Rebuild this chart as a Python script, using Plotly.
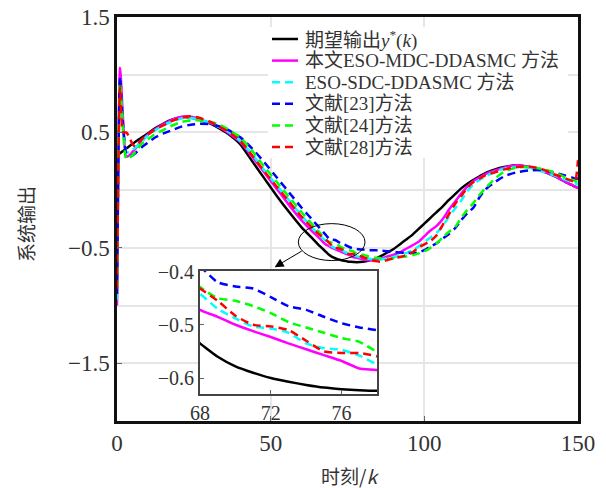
import plotly.graph_objects as go

# ---------------- data ----------------
k = [0, 1, 2, 3, 4, 5, 6, 8, 10, 12, 15, 18, 21, 24, 27, 30, 33, 36, 40, 44, 48, 52, 56, 60,
     64, 66, 68, 69, 70, 71, 72, 73, 74, 75, 76, 77, 78, 80, 82, 84, 86, 88, 90, 92, 94, 96,
     98, 100, 102, 104, 106, 108, 110, 112, 114, 116, 118, 120, 123, 126, 130, 134, 138, 142,
     146, 148, 149, 150]

y_ref = [0.30, 0.32, 0.34, 0.36, 0.38, 0.40, 0.42, 0.455, 0.49, 0.53, 0.575, 0.612, 0.632, 0.628,
         0.608, 0.58, 0.54, 0.49, 0.40, 0.25, 0.10, -0.05, -0.19, -0.32,
         -0.43, -0.485, -0.535, -0.56, -0.578, -0.59, -0.60, -0.607, -0.613, -0.618, -0.621, -0.623,
         -0.624, -0.62, -0.61, -0.595, -0.57, -0.54, -0.51, -0.47, -0.43, -0.39,
         -0.34, -0.29, -0.24, -0.19, -0.14, -0.085, -0.035, 0.015, 0.055, 0.09, 0.12, 0.15, 0.18,
         0.20, 0.215, 0.20, 0.17, 0.125, 0.07, 0.045, 0.03, 0.02]

y_mdc = [-1.00, 1.06, 0.60, 0.29, 0.30, 0.33, 0.36, 0.43, 0.48, 0.52, 0.57, 0.61, 0.635, 0.635,
         0.615, 0.585, 0.55, 0.50, 0.42, 0.29, 0.15, 0.01, -0.13, -0.26,
         -0.37, -0.42, -0.472, -0.485, -0.50, -0.512, -0.523, -0.535, -0.546, -0.557, -0.568, -0.582,
         -0.585, -0.598, -0.608, -0.605, -0.59, -0.575, -0.56, -0.54, -0.51, -0.48,
         -0.45, -0.40, -0.35, -0.31, -0.25, -0.17, -0.10, -0.03, 0.03, 0.08, 0.11, 0.14, 0.17,
         0.195, 0.215, 0.20, 0.17, 0.125, 0.07, 0.045, 0.03, 0.02]

y_sdc = [-0.95, 0.95, 0.55, 0.33, 0.33, 0.35, 0.37, 0.42, 0.47, 0.51, 0.56, 0.595, 0.62, 0.625,
         0.61, 0.585, 0.55, 0.51, 0.43, 0.31, 0.17, 0.04, -0.09, -0.22,
         -0.34, -0.395, -0.442, -0.47, -0.488, -0.503, -0.507, -0.515, -0.535, -0.544, -0.547, -0.558,
         -0.574, -0.585, -0.595, -0.60, -0.60, -0.59, -0.58, -0.565, -0.545, -0.52,
         -0.49, -0.45, -0.41, -0.37, -0.31, -0.23, -0.16, -0.09, -0.01, 0.05, 0.09, 0.12, 0.16,
         0.185, 0.20, 0.195, 0.165, 0.13, 0.09, 0.07, 0.06, 0.05]

y_23 = [-0.90, 0.98, 0.55, 0.32, 0.30, 0.30, 0.32, 0.37, 0.41, 0.45, 0.49, 0.52, 0.55, 0.567,
        0.575, 0.572, 0.555, 0.525, 0.46, 0.36, 0.24, 0.11, -0.02, -0.15,
        -0.27, -0.33, -0.39, -0.42, -0.428, -0.432, -0.448, -0.465, -0.472, -0.485, -0.497, -0.505,
        -0.51, -0.515, -0.52, -0.52, -0.525, -0.53, -0.535, -0.54, -0.545, -0.545,
        -0.54, -0.52, -0.49, -0.46, -0.42, -0.38, -0.33, -0.26, -0.20, -0.15, -0.06, 0.01, 0.07,
        0.12, 0.155, 0.17, 0.175, 0.155, 0.125, 0.11, 0.10, 0.10]

y_24 = [-0.85, 0.93, 0.50, 0.27, 0.28, 0.30, 0.33, 0.40, 0.44, 0.48, 0.52, 0.56, 0.59, 0.603,
        0.605, 0.595, 0.57, 0.53, 0.46, 0.34, 0.20, 0.07, -0.06, -0.19,
        -0.31, -0.37, -0.429, -0.45, -0.455, -0.465, -0.478, -0.495, -0.505, -0.515, -0.525, -0.532,
        -0.55, -0.56, -0.575, -0.585, -0.59, -0.595, -0.59, -0.58, -0.575, -0.565,
        -0.55, -0.53, -0.50, -0.46, -0.41, -0.36, -0.32, -0.24, -0.17, -0.11, -0.04, 0.02, 0.10,
        0.16, 0.195, 0.20, 0.185, 0.155, 0.11, 0.09, 0.08, 0.07]

y_28 = [-0.85, 0.90, 0.50, 0.50, 0.46, 0.40, 0.38, 0.44, 0.48, 0.52, 0.56, 0.60, 0.63, 0.64,
        0.625, 0.595, 0.555, 0.51, 0.43, 0.30, 0.16, 0.03, -0.10, -0.23,
        -0.34, -0.39, -0.432, -0.455, -0.483, -0.50, -0.503, -0.51, -0.53, -0.55, -0.553, -0.553,
        -0.559, -0.58, -0.60, -0.615, -0.62, -0.605, -0.59, -0.58, -0.565, -0.54,
        -0.50, -0.47, -0.44, -0.39, -0.30, -0.21, -0.12, -0.05, 0.02, 0.07, 0.10, 0.13, 0.155,
        0.18, 0.20, 0.205, 0.185, 0.14, 0.10, 0.08, 0.07, 0.26]

names = ['期望输出<i>y</i><sup>*</sup>(<i>k</i>)', '本文ESO-MDC-DDASMC 方法', 'ESO-SDC-DDASMC 方法',
         '文献[23]方法', '文献[24]方法', '文献[28]方法']
series = [y_ref, y_mdc, y_sdc, y_23, y_24, y_28]
colors = ['#000000', '#ff00ff', '#00ffff', '#0000ff', '#00ff00', '#ff0000']
dashes = ['solid', 'solid', '8px,5px', '8px,5px', '8px,5px', '8px,5px']

main_xticks = [0, 50, 100, 150]
inset_xticks = [68, 72, 76]
inset_yticks = [-0.4, -0.5, -0.6]

SERIF = 'Liberation Serif, Noto Sans CJK SC, serif'
CJK = 'Noto Sans CJK SC, Liberation Serif, sans-serif'

# plot-area geometry in pixels (for paper-coordinate helpers)
L, R, T, B = 117, 578, 17, 421
def px(xp):
    return (xp - L) / (R - L)
def py(yp):
    return 1 - (yp - T) / (B - T)

fig = go.Figure()
for nm, ys, c, d in zip(names, series, colors, dashes):
    fig.add_trace(go.Scatter(x=k, y=ys, name=nm, mode='lines', showlegend=False,
                             line=dict(color=c, width=2.5, dash=d, shape='spline', smoothing=0.6),
                             xaxis='x', yaxis='y'))
for nm, ys, c, d in zip(names, series, colors, dashes):
    fig.add_trace(go.Scatter(x=k, y=ys, name=nm, mode='lines', showlegend=False,
                             line=dict(color=c, width=2.5, dash=d, shape='spline', smoothing=0.6),
                             xaxis='x2', yaxis='y2'))

GRID = '#e6e6e6'
fig.update_layout(
    width=606, height=488,
    margin=dict(l=L, r=606 - R, t=T, b=488 - B, autoexpand=False),
    paper_bgcolor='white', plot_bgcolor='white',
    font=dict(family=SERIF, color='#333333', size=20),
    showlegend=False,
    xaxis=dict(domain=[0, 1], range=[0, 150], tickvals=main_xticks, showgrid=True,
               automargin=False,
               gridcolor=GRID, gridwidth=2, zeroline=False, showline=True, mirror=True,
               linecolor='#111111', linewidth=2.5, ticks='inside', ticklen=5,
               tickcolor='#666666', tickfont=dict(size=23, family=SERIF, color='#333333')),
    yaxis=dict(domain=[0, 1], range=[-2, 1.5], tick0=-1.5, dtick=1, showgrid=True,
               automargin=False,
               gridcolor=GRID, gridwidth=2, zeroline=False, showline=True, mirror=True,
               linecolor='#111111', linewidth=2.5, ticks='inside', ticklen=5,
               tickcolor='#666666', tickfont=dict(size=23, family=SERIF, color='#333333'),
               minor=dict(dtick=0.5, tick0=-1.5, showgrid=True, gridcolor=GRID, gridwidth=2,
                          ticks='')),
    xaxis2=dict(domain=[px(200), px(377)], anchor='y2', range=[68, 78], tickvals=inset_xticks,
                automargin=False,
                showgrid=False, zeroline=False, showline=True, mirror=True,
                linecolor='#444444', linewidth=2, ticks='inside', ticklen=4,
                tickcolor='#666666', tickfont=dict(size=20, family=SERIF, color='#333333')),
    yaxis2=dict(domain=[py(394), py(271)], anchor='x2', range=[-0.63, -0.399],
                tickvals=inset_yticks, tickformat='.1f', automargin=False,
                showgrid=False, zeroline=False, showline=True, mirror=True,
                linecolor='#444444', linewidth=2, ticks='inside', ticklen=4,
                tickcolor='#666666', tickfont=dict(size=20, family=SERIF, color='#333333')),
)

# white background for the inset (covers main grid)
fig.add_shape(type='rect', xref='x2 domain', yref='y2 domain', x0=0, x1=1, y0=0, y1=1,
              fillcolor='white', line=dict(width=0), layer='below')
# ellipse marking the zoomed region
fig.add_shape(type='circle', xref='x', yref='y', x0=59.0, x1=80.7, y0=-0.61, y1=-0.29,
              line=dict(color='black', width=1))
# arrow
fig.add_annotation(x=51.3, y=-0.667, ax=60.6, ay=-0.52, xref='x', yref='y', axref='x', ayref='y',
                   text='', showarrow=True, arrowhead=2, arrowsize=1.8, arrowwidth=1,
                   arrowcolor='black')

# ---- legend (drawn manually to match the reference box) ----
fig.add_shape(type='rect', xref='paper', yref='paper', x0=px(268), x1=px(568),
              y0=py(158), y1=py(27), fillcolor='white', line=dict(width=0), layer='above')
row_y = [39, 60.6, 82.2, 103.8, 125.4, 147]
for nm, c, d, yy in zip(names, colors, dashes, row_y):
    fig.add_shape(type='line', xref='paper', yref='paper', x0=px(272), x1=px(298),
                  y0=py(yy), y1=py(yy), layer='above',
                  line=dict(color=c, width=2.5, dash=d))
    fig.add_annotation(text=nm, xref='paper', yref='paper', x=px(303), y=py(yy),
                       xanchor='left', yanchor='middle', showarrow=False,
                       font=dict(size=19, family=SERIF, color='#333333'))

# axis titles
fig.add_annotation(text='系统输出', xref='paper', yref='paper', x=px(25), y=py(224),
                   textangle=-90, showarrow=False, xanchor='center', yanchor='middle',
                   font=dict(size=19, family=CJK, color='#333333'))
fig.add_annotation(text='时刻/<i>k</i>', xref='paper', yref='paper', x=px(350), y=py(476),
                   showarrow=False, xanchor='center', yanchor='middle',
                   font=dict(size=19, family=CJK, color='#333333'))

fig.write_html('out.html')
